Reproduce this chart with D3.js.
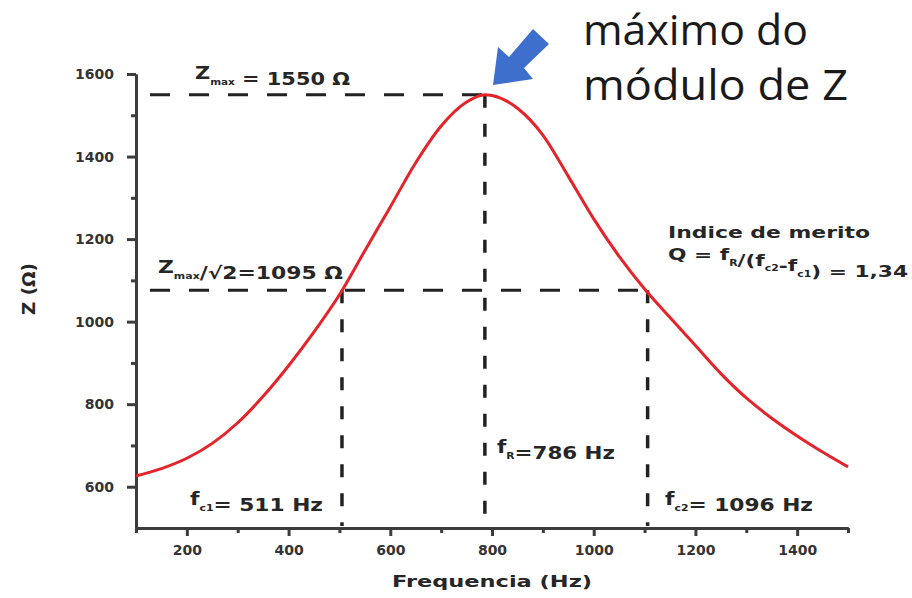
<!doctype html>
<html lang="pt">
  <head>
    <meta charset="utf-8">
    <script src="https://d3js.org/d3.v7.min.js"></script>
    <style>
      body { margin: 0; background: #fff; }
      svg text { font-family: "DejaVu Sans", "Liberation Sans", sans-serif; font-weight: bold; fill: #262626; }
      .axis text { font-size: 14px; fill: #333; }
      .note { font-family: "Open Sans", "Noto Sans", sans-serif !important; font-weight: normal !important; font-size: 42px; fill: #1a1a1a !important; }
    </style>
    <title>Z vs frequencia</title>
  </head>
  <body>
<div id="chart"></div>
<script>

// curve: frequency (Hz) and |Z| (ohm)
var freq = [100, 150, 200, 250, 300, 350, 400, 450, 500, 550, 600, 650, 700, 750, 786,
            800, 850, 900, 950, 1000, 1050, 1100, 1150, 1200, 1250, 1300, 1350, 1400, 1450, 1500];
var zValues = [626, 644, 669, 705, 755, 819, 893, 975, 1065, 1172, 1278, 1385, 1474, 1532, 1550,
               1548, 1517, 1452, 1352, 1249, 1158, 1079, 1010, 942, 874, 815, 766, 723, 684, 648];

// tick labels
var xTicks = [200, 400, 600, 800, 1000, 1200, 1400];
var xMinor = [100, 300, 500, 700, 900, 1100, 1300, 1500];
var yTicks = [600, 800, 1000, 1200, 1400, 1600];
var yMinor = [700, 900, 1100, 1300, 1500];

// dashed guide lines, as drawn in the picture
var guideF = [505, 786, 1106];   // fc1, fR, fc2
var zMaxLine = 1550;
var zHalfLine = 1076;

var width = 912, height = 598;
var axisColor = "#3c3c3c";

var svg = d3.select("#chart")
  .append("svg")
    .attr("width", width)
    .attr("height", height);

var x = d3.scaleLinear().domain([100, 1500]).range([136, 848]);
var y = d3.scaleLinear().domain([500, 1600]).range([528, 74]);

// axes
svg.append("g").attr("class", "axis")
  .attr("transform", "translate(0," + y(500) + ")")
  .call(d3.axisBottom(x).tickValues(xTicks).tickSize(8).tickPadding(9).tickSizeOuter(0).tickFormat(d3.format("d")));
svg.append("g").attr("class", "axis")
  .attr("transform", "translate(0," + y(500) + ")")
  .call(d3.axisBottom(x).tickValues(xMinor).tickSize(5).tickFormat("").tickSizeOuter(0));

svg.append("g").attr("class", "axis")
  .attr("transform", "translate(" + x(100) + ",0)")
  .call(d3.axisLeft(y).tickValues(yTicks).tickSize(9).tickPadding(13).tickSizeOuter(0).tickFormat(d3.format("d")));
svg.append("g").attr("class", "axis")
  .attr("transform", "translate(" + x(100) + ",0)")
  .call(d3.axisLeft(y).tickValues(yMinor).tickSize(5).tickFormat("").tickSizeOuter(0));

svg.selectAll(".axis path").attr("stroke", axisColor).attr("stroke-width", 3);
svg.selectAll(".axis .tick line").attr("stroke", axisColor).attr("stroke-width", 3);

// axis titles
svg.append("text")
  .attr("x", 392).attr("y", 587)
  .attr("textLength", 200).attr("lengthAdjust", "spacingAndGlyphs")
  .style("font-size", "16px")
  .text("Frequencia (Hz)");

svg.append("text")
  .attr("transform", "translate(35,315) rotate(-90)")
  .attr("textLength", 52).attr("lengthAdjust", "spacingAndGlyphs")
  .style("font-size", "17px")
  .text("Z (Ω)");

// dashed guides
var dashColor = "#222";
svg.append("line")
  .attr("x1", 150).attr("x2", x(guideF[1]))
  .attr("y1", y(zMaxLine)).attr("y2", y(zMaxLine))
  .attr("stroke", dashColor).attr("stroke-width", 3).attr("stroke-dasharray", "20,19");
svg.append("line")
  .attr("x1", 150).attr("x2", x(guideF[2]))
  .attr("y1", y(zHalfLine)).attr("y2", y(zHalfLine))
  .attr("stroke", dashColor).attr("stroke-width", 3).attr("stroke-dasharray", "20,19");

svg.selectAll(".vguide")
  .data(guideF)
  .enter()
  .append("line")
    .attr("class", "vguide")
    .attr("x1", function(d) { return x(d); })
    .attr("x2", function(d) { return x(d); })
    .attr("y1", function(d, i) { return i == 1 ? y(zMaxLine) : y(zHalfLine); })
    .attr("y2", y(500) - 2)
    .attr("stroke", dashColor).attr("stroke-width", 3.5).attr("stroke-dasharray", "13,16");

// the curve
var line = d3.line()
  .x(function(d, i) { return x(freq[i]); })
  .y(function(d) { return y(d); })
  .curve(d3.curveMonotoneX);

svg.append("path")
  .datum(zValues)
  .attr("d", line)
  .attr("fill", "none")
  .attr("stroke", "#e5232a")
  .attr("stroke-width", 3);

// labels with subscripts, stretched to the widths in the picture
function label(px, py, size, len, parts) {
  var t = svg.append("text").attr("x", px).attr("y", py)
    .attr("textLength", len).attr("lengthAdjust", "spacingAndGlyphs")
    .style("font-size", size + "px");
  parts.forEach(function(p) {
    if (p.sub) {
      t.append("tspan").attr("dy", size * 0.35).style("font-size", (size * 0.5) + "px").text(p.sub);
      t.append("tspan").attr("dy", -size * 0.35).text("");
    } else {
      t.append("tspan").text(p.t);
    }
  });
  return t;
}

label(195, 79, 17, 155, [{t: "Z"}, {sub: "max"}, {t: " = 1550 Ω"}]);
label(158, 273, 17, 185, [{t: "Z"}, {sub: "max"}, {t: "/√2=1095 Ω"}]);
label(668, 238, 16, 202, [{t: "Indice de merito"}]);
label(668, 260, 16, 240, [{t: "Q = f"}, {sub: "R"}, {t: "/(f"}, {sub: "c2"}, {t: "-f"}, {sub: "c1"}, {t: ") = 1,34"}]);
label(190, 505, 17, 133, [{t: "f"}, {sub: "c1"}, {t: "= 511 Hz"}]);
label(497, 453, 17, 118, [{t: "f"}, {sub: "R"}, {t: "=786 Hz"}]);
label(665, 505, 17, 148, [{t: "f"}, {sub: "c2"}, {t: "= 1096 Hz"}]);

// note and arrow
svg.append("text").attr("class", "note").attr("x", 583).attr("y", 45)
  .attr("textLength", 225).attr("lengthAdjust", "spacingAndGlyphs").text("máximo do");
svg.append("text").attr("class", "note").attr("x", 583).attr("y", 100)
  .attr("textLength", 265).attr("lengthAdjust", "spacingAndGlyphs").text("módulo de Z");

svg.append("polygon")
  .attr("points", [[493, 85], [498, 47], [509, 57], [533, 29], [549, 44], [524, 68], [533, 79]].join(" "))
  .attr("fill", "#3f6fcc");

</script>
  </body>
</html>
